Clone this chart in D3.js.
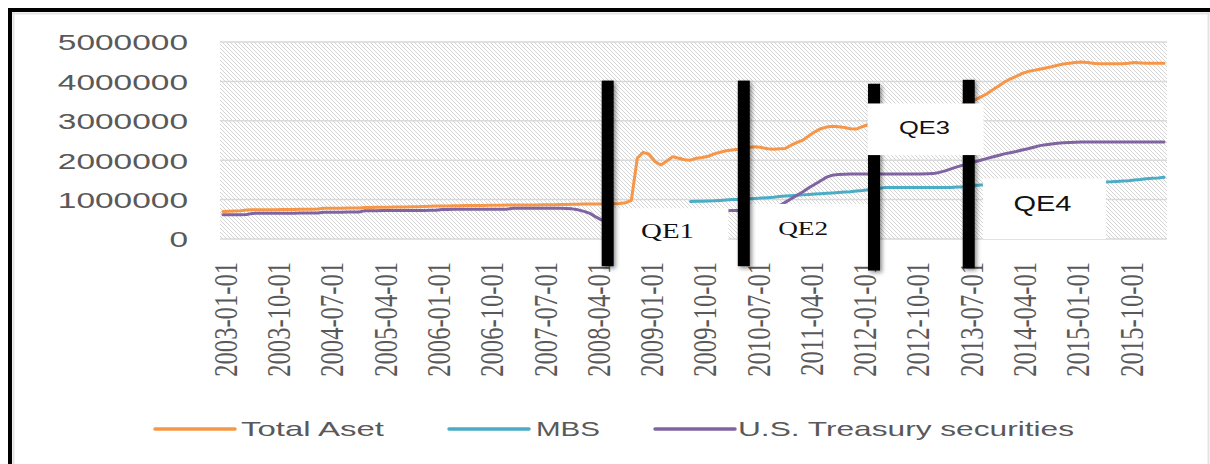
<!DOCTYPE html>
<html>
<head>
<meta charset="utf-8">
<script src="https://cdn.jsdelivr.net/npm/d3@7"></script>
<style>
  body { margin: 0; background: #fff; }
  svg { display: block; }
</style>
</head>
<body>
<div id="chart"></div>
<script>
// Monthly categories, 2003-01 .. 2016-04
const months = d3.utcMonth.range(new Date(Date.UTC(2003, 0, 1)), new Date(Date.UTC(2016, 4, 1)))
    .map(d => d3.utcFormat('%Y-%m-%d')(d));

// Labelled categories (every 9 months)
const tickLabels = ['2003-01-01', '2003-10-01', '2004-07-01', '2005-04-01', '2006-01-01', '2006-10-01',
    '2007-07-01', '2008-04-01', '2009-01-01', '2009-10-01', '2010-07-01', '2011-04-01',
    '2012-01-01', '2012-10-01', '2013-07-01', '2014-04-01', '2015-01-01', '2015-10-01'];

const yTicks = [0, 1000000, 2000000, 3000000, 4000000, 5000000];

// Series values, one per month (null = no data)
const totalAsset = [
    700000, 705000, 710000, 715000, 735000, 740000, 740000, 742000, 744000, 745000, 746000, 748000,
    750000, 752000, 755000, 757000, 760000, 778000, 780000, 780000, 782000, 784000, 785000, 787000,
    800000, 800000, 805000, 805000, 808000, 810000, 812000, 815000, 818000, 820000, 825000, 830000,
    835000, 838000, 840000, 842000, 845000, 848000, 850000, 852000, 853000, 855000, 856000, 858000,
    860000, 860000, 862000, 862000, 865000, 866000, 868000, 870000, 872000, 875000, 878000, 880000,
    885000, 888000, 890000, 890000, 890000, 892000, 895000, 900000, 920000, 980000, 2050000, 2200000,
    2150000, 1960000, 1880000, 1980000, 2090000, 2050000, 2010000, 2000000, 2050000, 2070000, 2100000, 2160000,
    2200000, 2240000, 2260000, 2280000, 2310000, 2330000, 2340000, 2320000, 2290000, 2280000, 2290000, 2300000,
    2380000, 2450000, 2510000, 2620000, 2720000, 2800000, 2840000, 2860000, 2850000, 2830000, 2800000, 2790000,
    2850000, 2900000, 2880000, 2860000, 2860000, 2870000, 2850000, 2840000, 2830000, 2820000, 2840000, 2880000,
    2950000, 3050000, 3150000, 3250000, 3330000, 3420000, 3470000, 3530000, 3600000, 3680000, 3780000, 3880000,
    3980000, 4060000, 4130000, 4200000, 4250000, 4280000, 4310000, 4340000, 4370000, 4410000, 4440000, 4460000,
    4480000, 4490000, 4480000, 4460000, 4450000, 4450000, 4450000, 4450000, 4450000, 4460000, 4480000, 4470000,
    4460000, 4460000, 4460000, 4460000
];

const mbs = [
    null, null, null, null, null, null, null, null, null, null, null, null,
    null, null, null, null, null, null, null, null, null, null, null, null,
    null, null, null, null, null, null, null, null, null, null, null, null,
    null, null, null, null, null, null, null, null, null, null, null, null,
    null, null, null, null, null, null, null, null, null, null, null, null,
    null, null, null, null, null, null, null, null, null, null, null, null,
    null, null, null, null, null, null, null, 950000, 955000, 960000, 965000, 970000,
    980000, 990000, 1000000, 1000000, 1010000, 1020000, 1030000, 1040000, 1050000, 1060000, 1080000, 1090000,
    1100000, 1110000, 1120000, 1130000, 1140000, 1150000, 1160000, 1170000, 1180000, 1190000, 1200000, 1220000,
    1230000, 1250000, 1270000, 1290000, 1310000, 1310000, 1310000, 1310000, 1310000, 1310000, 1310000, 1310000,
    1310000, 1310000, 1310000, 1310000, 1320000, 1320000, 1340000, 1360000, 1370000, 1380000, 1390000, 1395000,
    1400000, 1400000, 1405000, 1410000, 1410000, 1415000, 1420000, 1420000, 1425000, 1425000, 1428000, 1430000,
    1430000, 1432000, 1434000, 1436000, 1438000, 1445000, 1450000, 1460000, 1470000, 1480000, 1495000, 1510000,
    1530000, 1540000, 1550000, 1565000
];

const treasuries = [
    615000, 615000, 615000, 618000, 620000, 650000, 652000, 652000, 652000, 653000, 654000, 655000,
    656000, 657000, 658000, 658000, 660000, 680000, 680000, 681000, 682000, 683000, 684000, 685000,
    720000, 720000, 720000, 721000, 722000, 722000, 723000, 724000, 725000, 725000, 726000, 727000,
    730000, 750000, 751000, 752000, 753000, 754000, 754000, 755000, 755000, 756000, 756000, 757000,
    758000, 778000, 779000, 780000, 780000, 780000, 780000, 780000, 780000, 780000, 775000, 765000,
    740000, 700000, 650000, 560000, 480000, 480000, 480000, 480000, 480000, 480000, 476000, 476000,
    475000, 475000, 490000, 550000, 600000, 640000, 680000, 700000, 715000, 720000, 720000, 720000,
    720000, 720000, 722000, 722000, 722000, 723000, 724000, 740000, 770000, 800000, 840000, 930000,
    1020000, 1110000, 1200000, 1300000, 1390000, 1480000, 1570000, 1620000, 1640000, 1645000, 1650000, 1650000,
    1650000, 1650000, 1650000, 1650000, 1650000, 1650000, 1650000, 1650000, 1650000, 1650000, 1652000, 1655000,
    1660000, 1690000, 1730000, 1780000, 1830000, 1870000, 1910000, 1960000, 2000000, 2040000, 2080000, 2120000,
    2160000, 2190000, 2220000, 2260000, 2290000, 2330000, 2370000, 2390000, 2410000, 2430000, 2445000, 2450000,
    2455000, 2460000, 2460000, 2460000, 2460000, 2460000, 2460000, 2460000, 2460000, 2460000, 2460000, 2460000,
    2460000, 2460000, 2460000, 2460000
];

const seriesNames = ['Total Aset', 'MBS', 'U.S. Treasury securities'];
const seriesColors = ['#F79646', '#4BACC6', '#8064A2'];

// QE markers: month of the black bar, its top and bottom value
const qeBarMonths = ['2008-06-01', '2010-05-01', '2012-03-01', '2013-07-01'];
const qeBarTops = [4020000, 4020000, 3940000, 4040000];
const qeBarBottoms = [-690000, -690000, -800000, -740000];

// QE label boxes in month-index / value units
const qeLabels = ['QE1', 'QE2', 'QE3', 'QE4'];
const qeBoxFrom = [66.0, 89.1, 109.4, 128.9];
const qeBoxTo = [85.9, 111.0, 129.0, 149.7];
const qeBoxTop = [780000, 890000, 3440000, 1540000];
const qeBoxBottom = [-110000, -30000, 2130000, 0];

const W = 1210, H = 464;
const plot = { left: 220, right: 1167, top: 42, bottom: 239 };

const svg = d3.select('#chart').append('svg')
    .attr('width', W)
    .attr('height', H);

const defs = svg.append('defs');

// light diagonal hatch for the plot area
const hatch = defs.append('pattern')
    .attr('id', 'hatch')
    .attr('patternUnits', 'userSpaceOnUse')
    .attr('width', 4)
    .attr('height', 4);
hatch.append('rect').attr('width', 4).attr('height', 4).attr('fill', '#fff');
hatch.append('path')
    .attr('d', 'M-1,-1 L5,5 M-1,3 L1,5 M3,-1 L5,1')
    .attr('stroke', '#cfcfcf')
    .attr('stroke-width', 0.9);

const shadow = defs.append('filter')
    .attr('id', 'shadow')
    .attr('x', '-60%').attr('y', '-10%')
    .attr('width', '220%').attr('height', '120%');
shadow.append('feDropShadow')
    .attr('dx', 2).attr('dy', 2)
    .attr('stdDeviation', 2)
    .attr('flood-color', '#000')
    .attr('flood-opacity', 0.45);

svg.append('rect').attr('width', W).attr('height', H).attr('fill', '#fff');

// frame
svg.append('line').attr('x1', 10).attr('x2', 10).attr('y1', 8).attr('y2', H)
    .attr('stroke', '#000').attr('stroke-width', 4);
svg.append('line').attr('x1', 8).attr('x2', W).attr('y1', 10).attr('y2', 10)
    .attr('stroke', '#000').attr('stroke-width', 4);
svg.append('line').attr('x1', 13.5).attr('x2', 13.5).attr('y1', 12).attr('y2', H)
    .attr('stroke', '#e3e3e3').attr('stroke-width', 2);
svg.append('line').attr('x1', 12).attr('x2', W).attr('y1', 13.5).attr('y2', 13.5)
    .attr('stroke', '#e3e3e3').attr('stroke-width', 2);
svg.append('line').attr('x1', W - 1.5).attr('x2', W - 1.5).attr('y1', 12).attr('y2', H)
    .attr('stroke', '#e3e3e3').attr('stroke-width', 2);

// scales
const x = d3.scaleBand().domain(months).range([plot.left, plot.right]);
const cx = m => x(m) + x.bandwidth() / 2;
const xm = d3.scaleLinear().domain([0, months.length]).range([plot.left, plot.right]);
const y = d3.scaleLinear().domain([0, 5000000]).range([plot.bottom, plot.top]);

// plot background
svg.append('rect')
    .attr('x', plot.left).attr('y', plot.top)
    .attr('width', plot.right - plot.left).attr('height', plot.bottom - plot.top)
    .attr('fill', 'url(#hatch)');

// gridlines
svg.append('g').selectAll('line').data(yTicks).join('line')
    .attr('x1', plot.left).attr('x2', plot.right)
    .attr('y1', d => y(d)).attr('y2', d => y(d))
    .attr('stroke', '#d9d9d9').attr('stroke-width', 1.5);

// y axis labels
const yAxis = svg.append('g')
    .attr('transform', `translate(188,0)`)
    .call(d3.axisLeft(y).tickValues(yTicks).tickSize(0).tickPadding(0).tickFormat(d3.format('d')));
yAxis.select('.domain').remove();
yAxis.selectAll('text')
    .attr('font-family', '"Liberation Sans", Arial, sans-serif')
    .attr('font-size', 22)
    .attr('fill', '#595959')
    .attr('dy', '0.36em')
    .attr('textLength', d => String(d).length * 18.6)
    .attr('lengthAdjust', 'spacingAndGlyphs');

// x axis labels (rotated, horizontally stretched)
svg.append('g').selectAll('text').data(tickLabels).join('text')
    .attr('transform', d => `translate(${cx(d) + 14},262) scale(1.33,1) rotate(-90)`)
    .attr('text-anchor', 'end')
    .attr('font-family', '"Liberation Serif", "Times New Roman", serif')
    .attr('font-size', 24.6)
    .attr('fill', '#595959')
    .text(d => d);

// series lines
const allSeries = [totalAsset, mbs, treasuries];
const line = d3.line()
    .defined(d => d != null)
    .x((d, i) => cx(months[i]))
    .y(d => y(d));

svg.append('g').selectAll('path').data(allSeries).join('path')
    .attr('d', d => line(d))
    .attr('fill', 'none')
    .attr('stroke', (d, i) => seriesColors[i])
    .attr('stroke-width', 3)
    .attr('stroke-linejoin', 'round')
    .attr('stroke-linecap', 'round');

// QE boxes (QE3 sits on top of the bars)
const boxes = qeLabels.map((label, i) => ({
    label,
    x0: xm(qeBoxFrom[i]), x1: xm(qeBoxTo[i]),
    y0: y(qeBoxTop[i]), y1: y(qeBoxBottom[i])
}));
const textDx = [-2, -9, -1, -2];
const textDy = [30, 31, 31, 33];
const textFont = ['"Liberation Serif", serif', '"Liberation Serif", serif', '"Liberation Sans", sans-serif', '"Liberation Sans", sans-serif'];
const textSize = [21, 19, 19, 22];
const textLen = [53, 50, 51, 58];

function drawBox(g, b, i) {
    g.append('rect')
        .attr('x', b.x0).attr('y', b.y0)
        .attr('width', b.x1 - b.x0).attr('height', b.y1 - b.y0)
        .attr('fill', '#fff');
    g.append('text')
        .attr('x', (b.x0 + b.x1) / 2 + textDx[i])
        .attr('y', b.y0 + textDy[i])
        .attr('text-anchor', 'middle')
        .attr('font-family', textFont[i])
        .attr('font-size', textSize[i])
        .attr('fill', '#111')
        .attr('textLength', textLen[i])
        .attr('lengthAdjust', 'spacingAndGlyphs')
        .text(b.label);
}

const boxLayer = svg.append('g');
boxes.forEach((b, i) => { if (i !== 2) drawBox(boxLayer, b, i); });

// QE black bars
svg.append('g').selectAll('rect').data(qeBarMonths).join('rect')
    .attr('x', d => cx(d) - 6)
    .attr('width', 12)
    .attr('y', (d, i) => y(qeBarTops[i]))
    .attr('height', (d, i) => y(qeBarBottoms[i]) - y(qeBarTops[i]))
    .attr('fill', '#000')
    .attr('filter', 'url(#shadow)');

drawBox(svg.append('g'), boxes[2], 2);

// legend
const legendLineX = [155, 449, 655];
const legendTextX = [241, 536, 738];
const legendTextLen = [143, 64, 336];
const legend = svg.append('g');
seriesNames.forEach((name, i) => {
    legend.append('line')
        .attr('x1', legendLineX[i]).attr('x2', legendLineX[i] + 80)
        .attr('y1', 429).attr('y2', 429)
        .attr('stroke', seriesColors[i])
        .attr('stroke-width', 3.5)
        .attr('stroke-linecap', 'round');
    legend.append('text')
        .attr('x', legendTextX[i]).attr('y', 436)
        .attr('font-family', '"Liberation Sans", Arial, sans-serif')
        .attr('font-size', 21)
        .attr('fill', '#595959')
        .attr('textLength', legendTextLen[i])
        .attr('lengthAdjust', 'spacingAndGlyphs')
        .text(name);
});
</script>
</body>
</html>
